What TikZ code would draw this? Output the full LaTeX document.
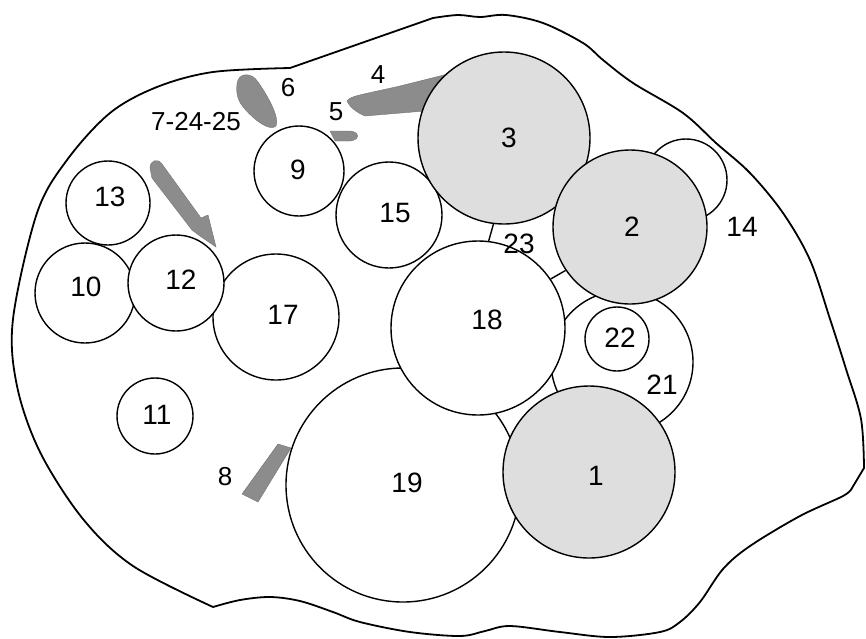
\documentclass[tikz,border=0pt]{standalone}
\usepackage{fontspec}
\setmainfont{Liberation Sans}
\begin{document}
\begin{tikzpicture}[x=1pt,y=-1pt,
  edge/.style={line width=1.8pt,line join=round},
  ring/.style={draw,line width=1.4pt,fill=white},
  shaded/.style={draw,line width=1.4pt,fill=black!13},
  blob/.style={fill=black!45,draw=black!55,line width=0.4pt},
  big/.style={font=\fontsize{28}{28}\selectfont,inner sep=0pt},
  small/.style={font=\fontsize{26}{26}\selectfont,inner sep=0pt},
  stub/.style={line width=1.4pt}]
\useasboundingbox (0,0) rectangle (866,638);
% outline
\draw[edge] plot[smooth,tension=0.55] coordinates {(290,68) (213,72) (157,87) (110,113) (67,160) (37,213) (13,319) (17,386) (40,452) (83,519) (133,566) (213,607)}
  plot[smooth,tension=0.55] coordinates {(213,607) (240,600) (270,597) (300,601) (333,612) (360,622) (410,632) (460,636) (485,631) (510,626) (560,632) (610,637) (660,632) (680,622) (700,602) (723,569) (750,546) (800,516) (843,496) (852,488)}
  -- (864,468)
  plot[smooth,tension=0.55] coordinates {(864,468) (861,419) (846,369) (830,319) (810,260) (783,213) (750,173) (716,143) (683,113) (633,83) (603,60) (583,43) (543,23) (506,15) (480,17) (458,15) (433,18)}
  -- (290,68);
% shaded blobs
\fill[blob] (237,84) .. controls (238,72) and (252,72) .. (258,82) .. controls (268,96) and (280,118) .. (276,126) .. controls (270,132) and (254,120) .. (244,108) .. controls (237,100) and (236,92) .. (237,84) -- cycle;
\fill[blob] (347,101) .. controls (350,96) and (360,95) .. (400,86) -- (448,74) -- (445,95) -- (425,111) -- (365,116) .. controls (358,113) and (350,108) .. (347,101) -- cycle;
\fill[blob] (330,131) -- (350,131) .. controls (360,132) and (360,140) .. (350,141) -- (335,141) -- cycle;
\fill[blob] (150,168) .. controls (150,160) and (158,158) .. (162,164) -- (201,218) -- (208,215) -- (216,247) -- (200,236) -- (192,230) -- (152,178) -- cycle;
\fill[blob] (242,494) -- (278,444) -- (291,448) -- (258,502) -- cycle;
% circles (back to front)
\node[ring,circle,minimum size=82pt] (c14) at (686,180) {};
\node[ring,circle,minimum size=142pt] (c21) at (622,362) {};
\node[ring,circle,minimum size=64pt] (c22) at (617,339) {};
\node[ring,circle,minimum size=234pt] (c19) at (403,485) {};
\node[shaded,circle,minimum size=172pt] (c1) at (589,472) {};
\node[ring,circle,minimum size=174pt] (c18) at (478,328) {};
\node[ring,circle,minimum size=106pt] (c15) at (389,215) {};
\node[ring,circle,minimum size=90pt] (c9) at (299,171) {};
\node[shaded,circle,minimum size=172pt] (c3) at (504,138) {};
\node[shaded,circle,minimum size=154pt] (c2) at (630,227) {};
\node[ring,circle,minimum size=126pt] (c17) at (276,317) {};
\node[ring,circle,minimum size=84pt] (c13) at (108,203) {};
\node[ring,circle,minimum size=100pt] (c10) at (85,293) {};
\node[ring,circle,minimum size=96pt] (c12) at (176,283) {};
\node[ring,circle,minimum size=76pt] (c11) at (155,416) {};
% short boundary stubs between neighbouring circles
\draw[stub] (c3.263) -- (c18.83);
\draw[stub] (c18.34) -- (c2.214);
% labels
\node[big] (l1) at (596,476) {1};
\node[big] (l2) at (632,227) {2};
\node[big] (l3) at (509,138) {3};
\node[big] (l9) at (298,170) {9};
\node[big] (l15) at (395,213) {15};
\node[big] (l13) at (110,197) {13};
\node[big] (l10) at (86,287) {10};
\node[big] (l12) at (181,280) {12};
\node[big] (l17) at (283,315) {17};
\node[big] (l18) at (487,320) {18};
\node[big] (l11) at (157,415) {11};
\node[big] (l19) at (407,483) {19};
\node[big] (l22) at (620,338) {22};
\node[big] (l21) at (662,385) {21};
\node[big] (l14) at (742,227) {14};
\node[big] (l23) at (519,244) {23};
\node[small] (l6) at (288,88) {6};
\node[small] (l4) at (378,75) {4};
\node[small] (l5) at (336,112) {5};
\node[small] (l7) at (196,122) {7-24-25};
\node[small] (l8) at (225,477) {8};
\end{tikzpicture}
\end{document}
